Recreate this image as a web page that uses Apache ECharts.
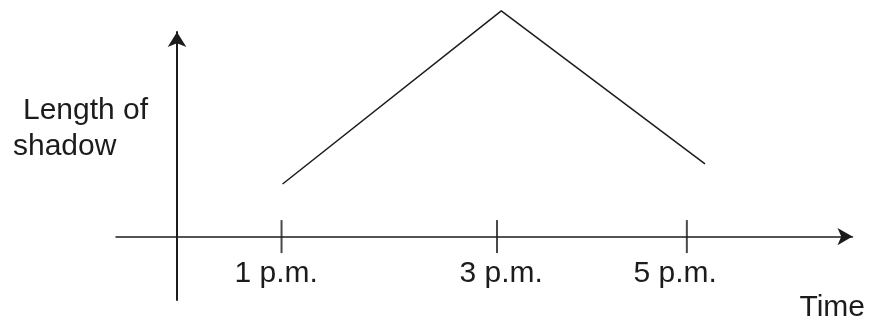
<!DOCTYPE html>
<html>
<head>
<meta charset="utf-8">
<script src="https://cdn.jsdelivr.net/npm/echarts@6/dist/echarts.min.js"></script>
<style>html,body{margin:0;padding:0;background:#fff}#c{width:873px;height:325px}</style>
</head>
<body>
<div id="c"></div>
<script>
// Time measured in hours after noon; length in arbitrary units
var timeHours = [0.99, 3.04, 4.95];
var shadowLength = [2.57, 11.03, 3.55];
var tickValues = [0.98, 3, 4.78];
var labelValues = [0.93, 3.04, 4.67];
var tickLabels = ['1 p.m.', '3 p.m.', '5 p.m.'];
var xName = 'Time';
var yNameLines = ['Length of', 'shadow'];

var FONT = '"Liberation Sans", Arial, sans-serif';
var INK = '#1c1c1c';

function labelFor(v) {
  var best = -1, bd = 1e9;
  for (var i = 0; i < labelValues.length; i++) {
    var d = Math.abs(labelValues[i] - v);
    if (d < bd) { bd = d; best = i; }
  }
  return bd < 0.01 ? tickLabels[best] : '';
}

var chart = echarts.init(document.getElementById('c'), null, {renderer: 'canvas'});
chart.setOption({
  animation: false,
  backgroundColor: '#fff',
  grid: {left: 116, right: 20.5, top: 32, bottom: 25, containLabel: false, outerBoundsMode: 'none'},
  xAxis: {
    type: 'value', min: -0.572, max: 6.333,
    splitLine: {show: false},
    axisLine: {onZero: true, symbol: ['none', 'arrow'], symbolSize: [13, 15],
      lineStyle: {color: INK, width: 1.5}},
    axisTick: {show: false},
    axisLabel: {
      show: true,
      customValues: labelValues,
      hideOverlap: false,
      showMinLabel: true, showMaxLabel: true,
      formatter: function (v) { return labelFor(v); },
      color: INK, fontFamily: FONT, fontSize: 30, margin: -41, verticalAlign: 'top'
    },
    name: xName, nameLocation: 'end', nameGap: 12.5,
    nameTextStyle: {color: INK, fontFamily: FONT, fontSize: 30, align: 'right',
      verticalAlign: 'top', padding: [56, 0, 0, 0]}
  },
  yAxis: {
    type: 'value', min: -3.1, max: 10,
    splitLine: {show: false},
    axisLine: {onZero: true, symbol: ['none', 'arrow'], symbolSize: [14, 15],
      lineStyle: {color: INK, width: 2}},
    axisTick: {show: false},
    axisLabel: {show: false},
    name: '{a|' + yNameLines[0] + '}\n{b|' + yNameLines[1] + '}',
    nameLocation: 'middle', nameRotate: 0, nameGap: 103,
    nameTextStyle: {color: INK, fontFamily: FONT, fontSize: 30, align: 'left',
      verticalAlign: 'bottom', lineHeight: 37,
      rich: {
        a: {color: INK, fontFamily: FONT, fontSize: 30, lineHeight: 37, padding: [0, 0, 0, 10]},
        b: {color: INK, fontFamily: FONT, fontSize: 30, lineHeight: 37, padding: [0, 0, 2, 0]}
      }}
  },
  series: [
    {
      type: 'line', silent: true, clip: false,
      data: timeHours.map(function (t, i) { return [t, shadowLength[i]]; }),
      symbol: 'none',
      lineStyle: {color: INK, width: 1.5}
    },
    {
      type: 'scatter', silent: true, clip: false,
      data: tickValues.map(function (t) { return [t, 0]; }),
      symbol: 'rect', symbolSize: [2, 33],
      itemStyle: {color: INK}
    }
  ]
});
</script>
</body>
</html>
